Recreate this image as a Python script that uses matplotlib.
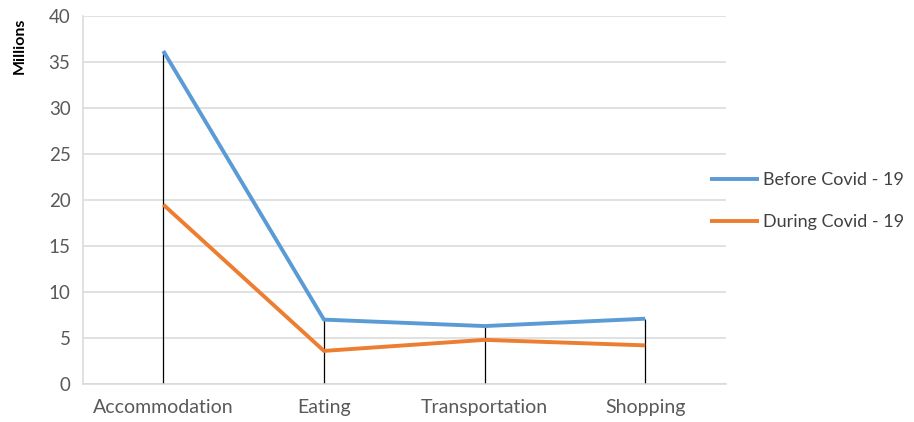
import matplotlib.pyplot as plt

categories = ['Accommodation', 'Eating', 'Transportation', 'Shopping']
before_covid = [36.2, 7.0, 6.3, 7.1]
during_covid = [19.5, 3.6, 4.8, 4.2]
y_ticks = [0, 5, 10, 15, 20, 25, 30, 35, 40]

plt.rcParams['font.family'] = ['Lato', 'DejaVu Sans']

fig = plt.figure(figsize=(9.14, 4.22), dpi=100)
ax = fig.add_axes([0.0908, 0.090, 0.703, 0.872])

x = list(range(len(categories)))

# drop lines from the axis up to the higher of the two series
tops = [max(b, d) for b, d in zip(before_covid, during_covid)]
ax.vlines(x, 0, tops, colors='black', linewidth=0.9, zorder=2)

ax.plot(x, before_covid, color='#5b9bd5', linewidth=2.8, label='Before Covid - 19',
        solid_capstyle='butt', zorder=3)
ax.plot(x, during_covid, color='#ed7d31', linewidth=2.8, label='During Covid - 19',
        solid_capstyle='butt', zorder=3)

ax.set_xlim(-0.5, len(categories) - 0.5)
ax.set_ylim(0, 40)
ax.set_yticks(y_ticks)
ax.set_xticks(x)
ax.set_xticklabels(categories)
ax.yaxis.grid(True, color='#d9d9d9', linewidth=1.1)
ax.set_axisbelow(True)
ax.tick_params(axis='y', length=0, colors='#595959', labelsize=13.5, pad=9)
ax.tick_params(axis='x', length=0, colors='#595959', labelsize=14, pad=11)

for side in ['top', 'right']:
    ax.spines[side].set_visible(False)
ax.spines['left'].set_color('#d9d9d9')
ax.spines['bottom'].set_color('#d9d9d9')
ax.spines['left'].set_linewidth(1.1)
ax.spines['bottom'].set_linewidth(1.1)

ax.set_ylabel('Millions', fontsize=11.5, fontweight='bold', color='black')
ax.yaxis.set_label_coords(-0.088, 0.92)

ax.legend(loc='center left', bbox_to_anchor=(0.965, 0.497), borderaxespad=0,
          frameon=False, fontsize=13, labelcolor='#404040', handlelength=2.7,
          handletextpad=0.2, labelspacing=1.45)

fig.savefig('out.png', dpi=100)
